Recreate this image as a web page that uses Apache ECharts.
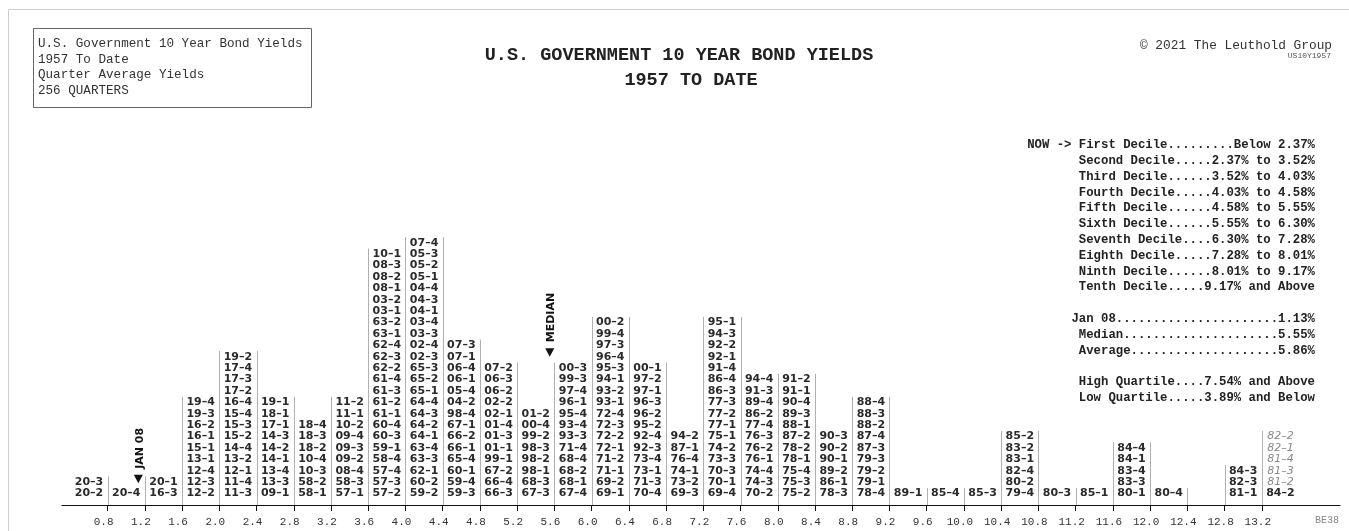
<!DOCTYPE html>
<html>
<head>
<meta charset="utf-8">
<script src="https://cdn.jsdelivr.net/npm/echarts@6/dist/echarts.min.js"></script>
<style>
html,body{margin:0;padding:0;background:#fff;}
#chart{width:1349px;height:531px;}
</style>
</head>
<body>
<div id="chart"></div>
<script>
// ---------------- DATA ----------------
// lower edge of each 0.4%-wide yield bin
const binLow = [0.4,0.8,1.2,1.6,2.0,2.4,2.8,3.2,3.6,4.0,4.4,4.8,5.2,5.6,6.0,6.4,6.8,7.2,7.6,8.0,8.4,8.8,9.2,9.6,10.0,10.4,10.8,11.2,11.6,12.0,12.4,12.8,13.2];
const binWidth = 0.4;
// quarters falling in each bin, listed bottom to top
const quarters = [
  ['20-2','20-3'],
  ['20-4'],
  ['16-3','20-1'],
  ['12-2','12-3','12-4','13-1','15-1','16-1','16-2','19-3','19-4'],
  ['11-3','11-4','12-1','13-2','14-4','15-2','15-3','15-4','16-4','17-2','17-3','17-4','19-2'],
  ['09-1','13-3','13-4','14-1','14-2','14-3','17-1','18-1','19-1'],
  ['58-1','58-2','10-3','10-4','18-2','18-3','18-4'],
  ['57-1','58-3','08-4','09-2','09-3','09-4','10-2','11-1','11-2'],
  ['57-2','57-3','57-4','58-4','59-1','60-3','60-4','61-1','61-2','61-3','61-4','62-2','62-3','62-4','63-1','63-2','03-1','03-2','08-1','08-2','08-3','10-1'],
  ['59-2','60-2','62-1','63-3','63-4','64-1','64-2','64-3','64-4','65-1','65-2','65-3','02-3','02-4','03-3','03-4','04-1','04-3','04-4','05-1','05-2','05-3','07-4'],
  ['59-3','59-4','60-1','65-4','66-1','66-2','67-1','98-4','04-2','05-4','06-1','06-4','07-1','07-3'],
  ['66-3','66-4','67-2','99-1','01-1','01-3','01-4','02-1','02-2','06-2','06-3','07-2'],
  ['67-3','68-3','98-1','98-2','98-3','99-2','00-4','01-2'],
  ['67-4','68-1','68-2','68-4','71-4','93-3','93-4','95-4','96-1','97-4','99-3','00-3'],
  ['69-1','69-2','71-1','71-2','72-1','72-2','72-3','72-4','93-1','93-2','94-1','95-3','96-4','97-3','99-4','00-2'],
  ['70-4','71-3','73-1','73-4','92-3','92-4','95-2','96-2','96-3','97-1','97-2','00-1'],
  ['69-3','73-2','74-1','76-4','87-1','94-2'],
  ['69-4','70-1','70-3','73-3','74-2','75-1','77-1','77-2','77-3','86-3','86-4','91-4','92-1','92-2','94-3','95-1'],
  ['70-2','74-3','74-4','76-1','76-2','76-3','77-4','86-2','89-4','91-3','94-4'],
  ['75-2','75-3','75-4','78-1','78-2','87-2','88-1','89-3','90-4','91-1','91-2'],
  ['78-3','86-1','89-2','90-1','90-2','90-3'],
  ['78-4','79-1','79-2','79-3','87-3','87-4','88-2','88-3','88-4'],
  ['89-1'],
  ['85-4'],
  ['85-3'],
  ['79-4','80-2','82-4','83-1','83-2','85-2'],
  ['80-3'],
  ['85-1'],
  ['80-1','83-3','83-4','84-1','84-4'],
  ['80-4'],
  [],
  ['81-1','82-3','84-3'],
  ['84-2']
];
// quarters above the chart's range, stacked in italics on the last column
const overflowQuarters = ['81-2','81-3','81-4','82-1','82-2'];
const tickValues = [0.8,1.2,1.6,2.0,2.4,2.8,3.2,3.6,4.0,4.4,4.8,5.2,5.6,6.0,6.4,6.8,7.2,7.6,8.0,8.4,8.8,9.2,9.6,10.0,10.4,10.8,11.2,11.6,12.0,12.4,12.8,13.2];
const markerNames = ['JAN 08','MEDIAN'];
const markerValues = [1.13, 5.55];
const legendLines = [
  'NOW -> First Decile.........Below 2.37%',
  'Second Decile.....2.37% to 3.52%',
  'Third Decile......3.52% to 4.03%',
  'Fourth Decile.....4.03% to 4.58%',
  'Fifth Decile......4.58% to 5.55%',
  'Sixth Decile......5.55% to 6.30%',
  'Seventh Decile....6.30% to 7.28%',
  'Eighth Decile.....7.28% to 8.01%',
  'Ninth Decile......8.01% to 9.17%',
  'Tenth Decile.....9.17% and Above',
  '',
  'Jan 08......................1.13%',
  'Median.....................5.55%',
  'Average....................5.86%',
  '',
  'High Quartile....7.54% and Above',
  'Low Quartile.....3.89% and Below'
];
const infoLines = ['U.S. Government 10 Year Bond Yields','1957 To Date','Quarter Average Yields','256 QUARTERS'];
const titleLines = ['U.S. GOVERNMENT 10 YEAR BOND YIELDS','1957 TO DATE'];

// ---------------- BUILD ----------------
const cellItems = [];   // [x, row, text, italic]
quarters.forEach((col, i) => {
  const xc = binLow[i] + binWidth / 2;
  col.forEach((q, j) => cellItems.push([xc, j + 1, q, 0]));
  if (i === quarters.length - 1) {
    overflowQuarters.forEach((q, k) => cellItems.push([xc, col.length + k + 1, q, 1]));
  }
});
const counts = quarters.map((c, i) => c.length + (i === quarters.length - 1 ? overflowQuarters.length : 0));
const sepItems = [];
for (let i = 1; i < binLow.length; i++) {
  const h = Math.max(counts[i - 1], counts[i]);
  if (h > 0) sepItems.push([binLow[i], h]);
}
// marker level: just above the taller nearby column
const markerLevels = [2.3, 13.4];

const chart = echarts.init(document.getElementById('chart'));
const mono = '"Liberation Mono", "Courier New", monospace';
const sans = '"DejaVu Sans", Verdana, sans-serif';

const graphics = [
  {type:'rect', shape:{x:8.5, y:9.5, width:1400, height:700}, style:{fill:'none', stroke:'#cfcfcf', lineWidth:1}, silent:true},
  {type:'rect', shape:{x:33.5, y:28.5, width:278, height:79}, style:{fill:'none', stroke:'#666', lineWidth:1}},
  {type:'text', right:17, top:39, style:{text:'\u00A9 2021 The Leuthold Group', font:'12.8px ' + mono, fill:'#333'}},
  {type:'text', right:18, top:52, style:{text:'US10Y1957', font:'8px ' + mono, fill:'#555'}},
  {type:'text', right:10, top:515, style:{text:'BE38', font:'10px ' + mono, fill:'#888'}}
];
infoLines.forEach((t, i) => graphics.push({type:'text', left:38, top:37 + i * 15.7, style:{text:t, font:'12.6px ' + mono, fill:'#333'}}));
titleLines.forEach((t, i) => graphics.push({type:'text', x:[679, 691][i], y:[55, 80][i], style:{text:t, font:'bold 18.5px ' + mono, fill:'#222', align:'center', verticalAlign:'middle'}}));
legendLines.forEach((t, i) => { if (t) graphics.push({type:'text', x:1315, y:145 + i * 15.8, style:{text:t, font:'bold 12.3px ' + mono, fill:'#222', align:'right', verticalAlign:'middle'}}); });

const option = {
  backgroundColor:'#fff',
  animation:false,
  grid:{left:62, right:9, top:49, bottom:26},
  xAxis:{
    type:'value', min:0.31, max:14.04,
    axisLine:{show:true, lineStyle:{color:'#111', width:1.2}},
    axisTick:{show:true, customValues:tickValues, length:6, lineStyle:{color:'#111'}},
    axisLabel:{show:true, customValues:tickValues, formatter:v => Number(v).toFixed(1), margin:12, padding:[0,8,0,0], fontFamily:mono, fontSize:11, color:'#333'},
    splitLine:{show:false}
  },
  yAxis:{type:'value', min:0, max:40, show:false, splitLine:{show:false}},
  graphic:graphics,
  series:[
    {
      type:'custom', name:'separators', data:sepItems, silent:true,
      renderItem:(params, api) => {
        const a = api.coord([api.value(0), 0]);
        const b = api.coord([api.value(0), api.value(1) + 0.5]);
        return {type:'line', shape:{x1:Math.round(a[0]) + 0.5, y1:a[1], x2:Math.round(a[0]) + 0.5, y2:b[1]}, style:{stroke:'#b0b0b0', lineWidth:1}};
      }
    },
    {
      type:'custom', name:'quarters', data:cellItems.map(d => [d[0], d[1]]), silent:true,
      renderItem:(params, api) => {
        const it = cellItems[params.dataIndex];
        const p = api.coord([api.value(0), api.value(1)]);
        const ital = it[3] === 1;
        return {type:'text', x:p[0], y:p[1], style:{text:it[2].replace('-', '\u2013'), font:(ital ? 'italic 11px ' : 'bold 11px ') + sans, fill:ital ? '#888' : '#2a2a2a', align:'center', verticalAlign:'middle'}};
      }
    },
    {
      type:'custom', name:'markers', data:markerValues.map((v, i) => [v, markerLevels[i]]), silent:true,
      renderItem:(params, api) => {
        const p = api.coord([api.value(0), api.value(1)]);
        return {type:'group', children:[
          {type:'polygon', shape:{points:[[p[0]-4.5, p[1]-4],[p[0]+4.5, p[1]-4],[p[0], p[1]+4.5]]}, style:{fill:'#111'}},
          {type:'text', x:p[0] + 1.5, y:p[1] - 10, rotation:Math.PI / 2, style:{text:markerNames[params.dataIndex], font:'bold 11px ' + sans, fill:'#111', align:'left', verticalAlign:'middle'}}
        ]};
      }
    }
  ]
};
chart.setOption(option);
</script>
</body>
</html>
